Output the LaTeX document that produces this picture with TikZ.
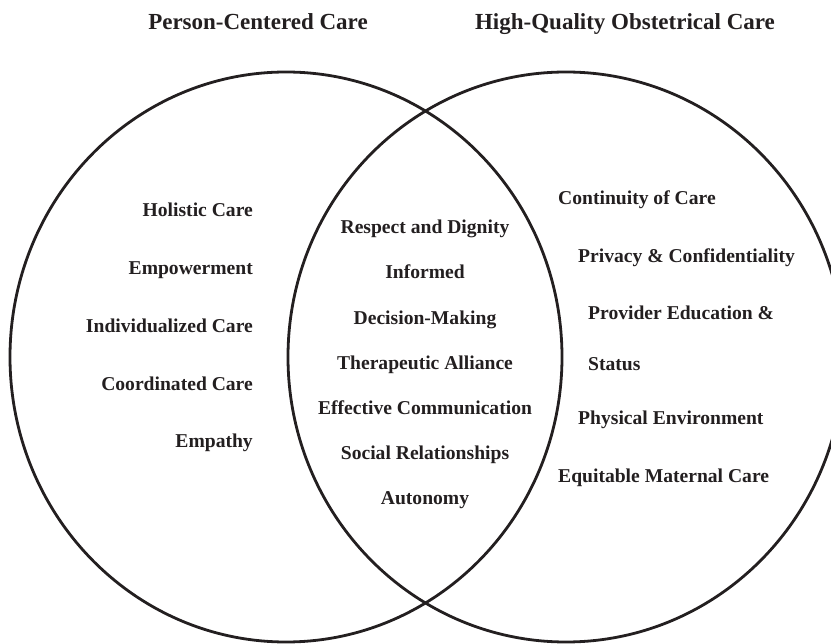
\documentclass[tikz,border=0pt]{standalone}
\usepackage{fontspec}
\setmainfont{Liberation Serif}
\begin{document}
\begin{tikzpicture}[x=1pt,y=-1pt,
  ink/.style={draw=venn,line width=2.8pt},
  title/.style={font=\bfseries\fontsize{23}{26}\selectfont,text=venn,inner sep=0pt,anchor=base},
  item/.style={font=\bfseries\fontsize{19.6}{23}\selectfont,text=venn,inner sep=0pt,anchor=base}]
\definecolor{venn}{HTML}{231F20}
\useasboundingbox (0,0) rectangle (831,644);
\clip (0,0) rectangle (831,644);

% the two overlapping sets
\draw[ink] (286,357) ellipse [x radius=276, y radius=285];
\draw[ink] (566,357) ellipse [x radius=278, y radius=285];

% headings
\node[title] (tl) at (258,30) {Person-Centered Care};
\node[title] (tr) at (625,30) {High-Quality Obstetrical Care};

% left-only items
\node[item,anchor=base east] (l1) at (253,216.5) {Holistic Care};
\node[item,anchor=base east] (l2) at (253,274.5) {Empowerment};
\node[item,anchor=base east] (l3) at (253,332.5) {Individualized Care};
\node[item,anchor=base east] (l4) at (253,390.5) {Coordinated Care};
\node[item,anchor=base east] (l5) at (253,447.5) {Empathy};

% shared items
\node[item] (c1) at (425,233.5) {Respect and Dignity};
\node[item] (c2) at (425,278.5) {Informed};
\node[item] (c3) at (425,324.5) {Decision-Making};
\node[item] (c4) at (425,369.5) {Therapeutic Alliance};
\node[item] (c5) at (425,414.5) {Effective Communication};
\node[item] (c6) at (425,459.5) {Social Relationships};
\node[item] (c7) at (425,504.5) {Autonomy};

% right-only items
\node[item,anchor=base west] (r1) at (558,204.5) {Continuity of Care};
\node[item,anchor=base west] (r2) at (578,262.5) {Privacy \& Confidentiality};
\node[item,anchor=base west] (r3) at (588,319.5) {Provider Education \&};
\node[item,anchor=base west] (r4) at (588,370.5) {Status};
\node[item,anchor=base west] (r5) at (578,424.5) {Physical Environment};
\node[item,anchor=base west] (r6) at (558,482.5) {Equitable Maternal Care};
\end{tikzpicture}
\end{document}
